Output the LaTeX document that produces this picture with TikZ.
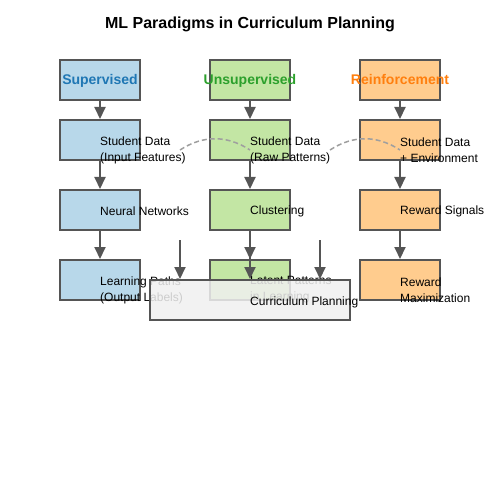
\documentclass[tikz,border=0pt]{standalone}
\usepackage{fontspec}
\setmainfont{Liberation Sans}
\usetikzlibrary{arrows.meta}
\definecolor{edge}{HTML}{555555}
\definecolor{supfill}{HTML}{B8D8EA}
\definecolor{unsfill}{HTML}{C3E6A4}
\definecolor{rlfill}{HTML}{FFCC8E}
\definecolor{supink}{HTML}{1F77B4}
\definecolor{unsink}{HTML}{2CA02C}
\definecolor{rlink}{HTML}{FF7F0E}
\definecolor{curfill}{HTML}{F0F0F0}
\begin{document}
\begin{tikzpicture}[x=1bp,y=-1bp,
  box/.style={draw=edge,line width=2bp,minimum width=80bp,minimum height=40bp,inner sep=0},
  lbl/.style={anchor=west,inner sep=0,align=left,font=\fontsize{12bp}{16bp}\selectfont},
  head/.style={inner sep=0,text height=10bp,text depth=3bp,yshift=-1.5bp,font=\bfseries\fontsize{14bp}{16bp}\selectfont},
  flow/.style={draw=edge,line width=2bp,-{Triangle[length=12bp,width=11bp]}},
  link/.style={draw=gray!75,line width=1.5bp,dash pattern=on 5bp off 3bp}]
\useasboundingbox (0,0) rectangle (500,500);
\node (title) at (250,24) {\bfseries\fontsize{16bp}{19bp}\selectfont ML Paradigms in Curriculum Planning};

\node[box,fill=supfill] (sup1) at (100,80) {};
\node[box,fill=supfill] (sup2) at (100,140) {};
\node[box,fill=supfill] (sup3) at (100,210) {};
\node[box,fill=supfill] (sup4) at (100,280) {};
\node[box,fill=unsfill] (uns1) at (250,80) {};
\node[box,fill=unsfill] (uns2) at (250,140) {};
\node[box,fill=unsfill] (uns3) at (250,210) {};
\node[box,fill=unsfill] (uns4) at (250,280) {};
\node[box,fill=rlfill] (rl1) at (400,80) {};
\node[box,fill=rlfill] (rl2) at (400,140) {};
\node[box,fill=rlfill] (rl3) at (400,210) {};
\node[box,fill=rlfill] (rl4) at (400,280) {};

\node[head,text=supink] (sup1t) at (sup1) {Supervised};
\node[head,text=unsink] (uns1t) at (uns1) {Unsupervised};
\node[head,text=rlink] (rl1t) at (rl1) {Reinforcement};

\node[lbl] (sup2t) at (100,150) {Student Data\\(Input Features)};
\node[lbl] (sup3t) at (100,211) {Neural Networks};
\node[lbl] (sup4t) at (100,290) {Learning Paths\\(Output Labels)};
\node[lbl] (uns2t) at (250,150) {Student Data\\(Raw Patterns)};
\node[lbl] (uns3t) at (250,211) {Clustering};
\node[lbl] (uns4t) at (250,290) {Latent Patterns\\in Learning};
\node[lbl] (rl2t) at (400,150) {Student Data\\+ Environment};
\node[lbl] (rl3t) at (400,211) {Reward Signals};
\node[lbl] (rl4t) at (400,290) {Reward\\Maximization};

\draw[flow] (sup1) -- (sup2);
\draw[flow] (sup2) -- (sup3);
\draw[flow] (sup3) -- (sup4);
\draw[flow] (uns1) -- (uns2);
\draw[flow] (uns2) -- (uns3);
\draw[flow] (uns3) -- (uns4);
\draw[flow] (rl1) -- (rl2);
\draw[flow] (rl2) -- (rl3);
\draw[flow] (rl3) -- (rl4);

\coordinate (a1) at (180,150);
\coordinate (a2) at (250,150);
\coordinate (b1) at (330,150);
\coordinate (b2) at (400,150);
\draw[link] (a1) .. controls (203,135) and (227,135) .. (a2);
\draw[link] (b1) .. controls (353,135) and (377,135) .. (b2);

\node[box,minimum width=200bp,fill=curfill,fill opacity=0.85] (cur) at (250,300) {};
\node[lbl] (curt) at (250,302) {Curriculum Planning};

\coordinate (c1) at (180,240);
\coordinate (c2) at (250,240);
\coordinate (c3) at (320,240);
\draw[flow] (c1) -- (c1 |- cur.north);
\draw[flow] (c2) -- (c2 |- cur.north);
\draw[flow] (c3) -- (c3 |- cur.north);
\end{tikzpicture}
\end{document}
